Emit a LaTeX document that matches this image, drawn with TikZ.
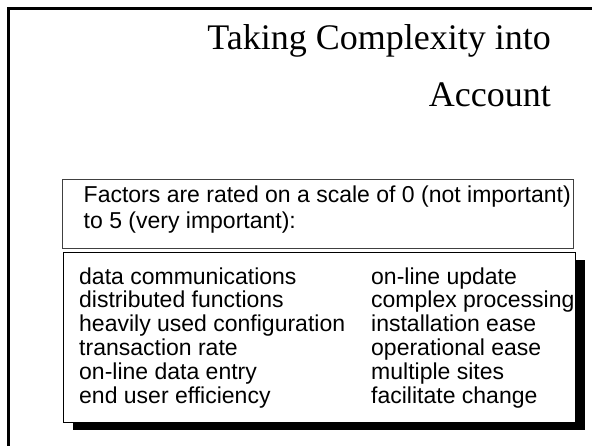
\documentclass[tikz,border=0pt]{standalone}
\usepackage{fontspec}
\setmainfont{Liberation Serif}
\newfontfamily\arialfont{Liberation Sans}
\usetikzlibrary{shadows}

\begin{document}
\begin{tikzpicture}[
      x=1pt, y=-1pt,
      lh/.store in=\LH, lh=23.9,          % list line height
      titletext/.style={inner sep=0pt, anchor=base east,
        font=\fontsize{36}{40}\selectfont},
      bodytext/.style={inner sep=0pt, anchor=base west,
        font=\arialfont\fontsize{23}{26}\selectfont},
      factbox/.style={draw=black!75, line width=0.9pt, inner sep=0pt,
        anchor=north west},
      listbox/.style={draw=black, line width=1.4pt, fill=white, inner sep=0pt,
        anchor=north west,
        drop shadow={shadow xshift=9pt, shadow yshift=-7pt,
          opacity=1, fill=black}},
    ]
    \useasboundingbox (0,0) rectangle (592,445);

    % Slide frame (runs off the right and bottom edges)
    \begin{scope}
      \clip (0,0) rectangle (592,445);
      \draw[line width=3pt] (8.5,460) -- (8.5,8.5) -- (600,8.5);
    \end{scope}

    % Title
    \node[titletext] (title1) at (551,49)  {Taking Complexity into};
    \node[titletext] (title2) at (551,106) {Account};

    % Rating scale box
    \node[factbox, minimum width=511pt, minimum height=69pt] (fbox) at (62,179) {};
    \node[bodytext] (scale1) at (83.5,202) {Factors are rated on a scale of 0 (not important)};
    \node[bodytext] (scale2) at (83.5,228) {to 5 (very important):};

    % Factor list box
    \node[listbox, minimum width=512pt, minimum height=170pt] (lbox) at (63,252) {};

    % Left column
    \foreach \txt [count=\i] in {data communications, distributed functions,
        heavily used configuration, transaction rate, on-line data entry,
        end user efficiency}
      \node[bodytext] (left\i) at (79,{284+(\i-1)*\LH}) {\txt};

    % Right column
    \foreach \txt [count=\i] in {on-line update, complex processing,
        installation ease, operational ease, multiple sites, facilitate change}
      \node[bodytext] (right\i) at (371,{284+(\i-1)*\LH}) {\txt};
  \end{tikzpicture}
\end{document}
